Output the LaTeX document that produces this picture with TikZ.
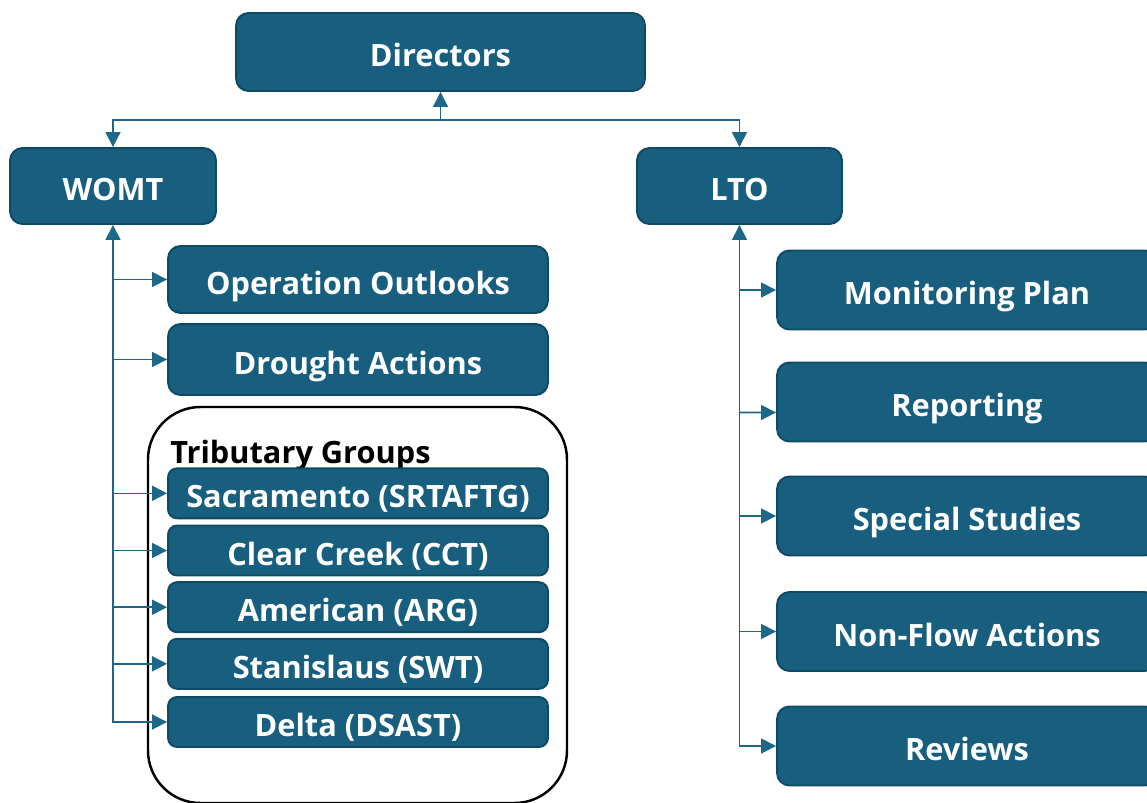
\documentclass[tikz,border=0pt]{standalone}
\usepackage{fontspec}
\setmainfont{Open Sans}
\usepackage[]{xcolor}
\usetikzlibrary{arrows.meta, positioning}

\definecolor{boxblue}{HTML}{185F7F}
\definecolor{boxedge}{HTML}{0F4A64}
\definecolor{linkblue}{HTML}{1D6789}

\tikzset{
	box/.style={draw=boxedge, line width=1.1pt, fill=boxblue, text=white, inner sep=0pt, rounded corners=0.25cm, text height=16.5pt, text depth=0pt},
	link/.style={draw=linkblue, line width=0.9pt, -{Triangle[length=0.3cm, width=0.3cm]}},
	twoway/.style={link, {Triangle[length=0.3cm, width=0.3cm]}-{Triangle[length=0.3cm, width=0.3cm]}},
	group/.style={draw=black, line width=1.4pt, rounded corners=1.05cm}
}

\begin{document}
\begin{tikzpicture}[x=0.02cm, y=-0.02cm, font=\bfseries\fontsize{17.5}{20}\selectfont]
	\def\bw{7.6cm}
	\def\tall{1.58cm}
	\def\trib{1.0cm}

	\useasboundingbox	(0,0) rectangle (1147,802);
	\clip				(0,0) rectangle (1147,802);

	\node[box, minimum width=8.18cm, minimum height=1.56cm]	(dir) at (440.5,52) {Directors};
	\node[box, minimum width=4.12cm, minimum height=1.52cm]	(womt) at (113,186) {WOMT};
	\node[box, minimum width=4.1cm, minimum height=1.52cm]	(lto) at (739.5,186) {LTO};

	\node[box, minimum width=\bw, minimum height=1.34cm]	(ops) at (358,279.5) {Operation Outlooks};
	\node[box, minimum width=\bw, minimum height=1.42cm]	(drought) at (358,359.5) {Drought Actions};

	\draw[group]		(148,407) rectangle (567,803);
	\node[anchor=base west, inner sep=0pt]		(tribs) at (170,463) {Tributary Groups};
	\node[box, rounded corners=0.18cm, minimum width=\bw, minimum height=\trib]	(sac) at (358,493.3) {Sacramento (SRTAFTG)};
	\node[box, rounded corners=0.18cm, minimum width=\bw, minimum height=\trib]	(clear) at (358,550.5) {Clear Creek (CCT)};
	\node[box, rounded corners=0.18cm, minimum width=\bw, minimum height=\trib]	(amer) at (358,607.2) {American (ARG)};
	\node[box, rounded corners=0.18cm, minimum width=\bw, minimum height=\trib]	(stan) at (358,663.8) {Stanislaus (SWT)};
	\node[box, rounded corners=0.18cm, minimum width=\bw, minimum height=\trib]	(delta) at (358,722) {Delta (DSAST)};

	\node[box, minimum width=\bw, minimum height=\tall]	(mon) at (967,290) {Monitoring Plan};
	\node[box, minimum width=\bw, minimum height=\tall]	(rep) at (967,402) {Reporting};
	\node[box, minimum width=\bw, minimum height=\tall]	(spec) at (967,516) {Special Studies};
	\node[box, minimum width=\bw, minimum height=\tall]	(nonflow) at (967,631.5) {Non-Flow Actions};
	\node[box, minimum width=\bw, minimum height=\tall]	(rev) at (967,746) {Reviews};

	\coordinate (split) at (dir.south |- 0,120);
	\draw[link]		(split) -- (dir.south);
	\draw[link]		(split) -| (womt.north);
	\draw[link]		(split) -| (lto.north);

	\draw[twoway]	(womt.south) |- (delta.west);
	\foreach \n in {ops, drought, sac, clear, amer, stan}
		\draw[link]	(womt.south |- \n.west) -- (\n.west);

	\draw[twoway]	(lto.south) |- (rev.west);
	\foreach \n in {mon, spec, nonflow}
		\draw[link]	(lto.south |- \n.west) -- (\n.west);
	\draw[link]		(lto.south |- 0,412.5) -- ([yshift=-0.21cm]rep.west);
\end{tikzpicture}
\end{document}
